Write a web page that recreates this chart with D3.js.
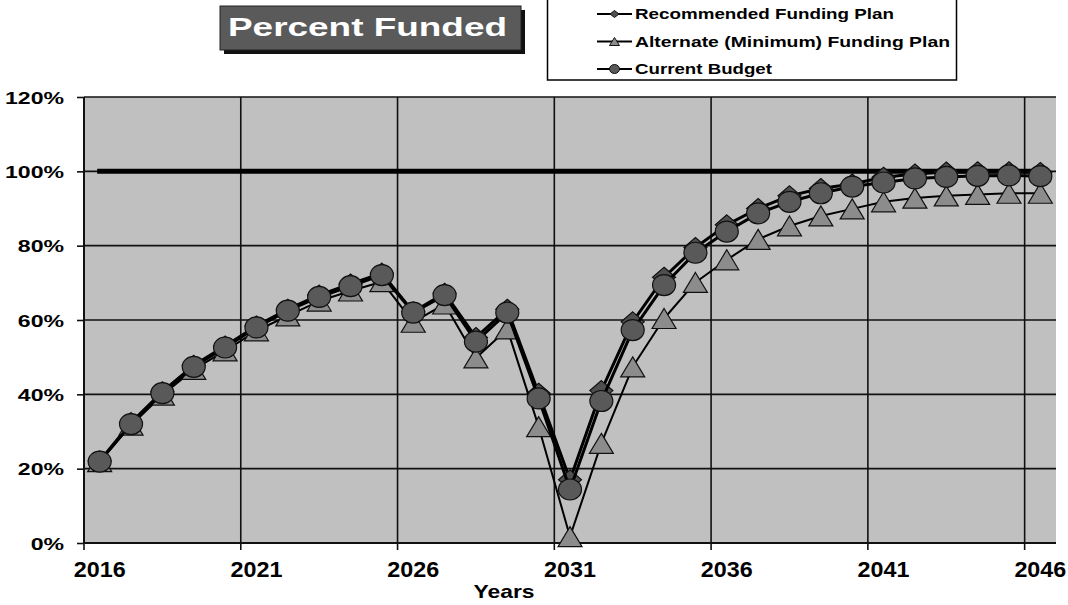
<!DOCTYPE html>
<html><head><meta charset="utf-8">
<script src="https://cdn.jsdelivr.net/npm/d3@7"></script>
<style>
html,body{margin:0;padding:0;background:#fff;}
text{font-family:"Liberation Sans",Arial,Helvetica,sans-serif;font-weight:bold;}
</style></head>
<body><svg id="c" width="1068" height="605"></svg>
<script>
const years = ["2016","2017","2018","2019","2020","2021","2022","2023","2024","2025","2026","2027","2028","2029","2030","2031","2032","2033","2034","2035","2036","2037","2038","2039","2040","2041","2042","2043","2044","2045","2046"];
const recommended = [22.1,32.4,40.7,47.8,53.0,58.4,62.9,66.7,69.7,72.6,62.2,67.2,55.3,62.9,40.3,17.0,41.0,59.5,71.5,79.5,85.6,90.0,93.4,95.4,96.6,98.4,99.3,99.8,99.9,99.9,99.7];
const alternate = [21.9,31.7,39.8,46.7,51.7,57.1,61.1,65.1,67.8,70.3,59.4,64.3,49.8,57.6,31.3,1.7,26.8,47.4,60.4,70.1,76.2,81.7,85.3,88.0,89.9,91.8,92.8,93.4,93.8,94.1,94.1];
const current = [21.9,32.0,40.3,47.4,52.6,58.0,62.5,66.2,69.1,72.1,62.0,66.7,54.2,62.0,38.9,14.4,38.2,57.3,69.4,78.1,83.8,88.7,91.8,94.1,95.9,97.0,98.1,98.5,98.8,98.9,98.7];
const target = [100,100,100,100,100,100,100,100,100,100,100,100,100,100,100,100,100,100,100,100,100,100,100,100,100,100,100,100,100,100,100];
const yTicks = [0,20,40,60,80,100,120];
const xTickLabels = ["2016","2021","2026","2031","2036","2041","2046"];
const seriesNames = ["Recommended Funding Plan","Alternate (Minimum) Funding Plan","Current Budget"];
const titleText = "Percent Funded";
const xTitle = "Years";

const svg = d3.select("#c");
const L=84, R=1056, T=97, B=543;
const x = d3.scaleBand().domain(years).range([L,R]).padding(0);
const y = d3.scaleLinear().domain([0,120]).range([B,T]);
const cx = d => x(d) + x.bandwidth()/2;

// plot background
svg.append("rect").attr("x",L).attr("y",T).attr("width",R-L).attr("height",B-T).attr("fill","#c0c0c0");

// horizontal gridlines
svg.append("g").selectAll("line").data(yTicks.filter(v=>v>0)).join("line")
  .attr("x1",L).attr("x2",R).attr("y1",d=>y(d)).attr("y2",d=>y(d))
  .attr("stroke","#111").attr("stroke-width",1.6);
// vertical gridlines at category boundaries
svg.append("g").selectAll("line").data(xTickLabels.slice(1)).join("line")
  .attr("x1",d=>x(d)).attr("x2",d=>x(d)).attr("y1",T).attr("y2",B)
  .attr("stroke","#111").attr("stroke-width",1.6);

// Y axis
const yAxis = svg.append("g").attr("transform",`translate(${L},0)`)
  .call(d3.axisLeft(y).tickValues(yTicks).tickSize(7).tickPadding(13).tickFormat(d=>d+"%"));
yAxis.select(".domain").attr("stroke","#111").attr("stroke-width",2).attr("d",`M0,${B}V${T}`);
yAxis.selectAll(".tick line").attr("stroke","#111").attr("stroke-width",1.6);
yAxis.selectAll(".tick text").attr("font-size",17).attr("fill","#000")
  .attr("font-family","Liberation Sans, Arial, sans-serif").attr("font-weight","bold")
  .attr("dy","0.36em")
  .each(function(){ const w=this.getComputedTextLength(); d3.select(this).attr("textLength",w*1.356).attr("lengthAdjust","spacingAndGlyphs"); });

// X axis: labels at category centers, ticks at boundaries
const xAxis = svg.append("g").attr("transform",`translate(0,${B})`)
  .call(d3.axisBottom(x).tickValues(xTickLabels).tickSize(0).tickPadding(18));
xAxis.select(".domain").remove();
xAxis.selectAll(".tick text").attr("font-size",22).attr("fill","#000")
  .attr("font-family","Liberation Sans, Arial, sans-serif").attr("font-weight","bold")
  .attr("dy","0.71em")
  .each(function(){ const w=this.getComputedTextLength(); d3.select(this).attr("textLength",w*1.06).attr("lengthAdjust","spacingAndGlyphs"); });
svg.append("g").selectAll("line").data(xTickLabels).join("line")
  .attr("x1",d=>x(d)).attr("x2",d=>x(d)).attr("y1",B).attr("y2",B+7)
  .attr("stroke","#111").attr("stroke-width",1.6);
svg.append("line").attr("x1",L).attr("x2",R).attr("y1",B).attr("y2",B).attr("stroke","#111").attr("stroke-width",2);

// x title
svg.append("text").attr("x",504).attr("y",598).attr("text-anchor","middle").attr("font-size",19)
  .attr("textLength",61).attr("lengthAdjust","spacingAndGlyphs").text(xTitle);

// target line
const line = arr => d3.line().x((d,i)=>cx(years[i])).y(d=>y(d))(arr);
svg.append("path").attr("d",line(target)).attr("fill","none").attr("stroke","#000").attr("stroke-width",5).attr("stroke-linecap","square");

// markers
const diamond = (w,h) => `M0,${-h/2}L${w/2},0L0,${h/2}L${-w/2},0Z`;
const triangle = (w,h) => `M0,${-h/2}L${w/2},${h/2}L${-w/2},${h/2}Z`;
const ellipse = (w,h) => `M${-w/2},0A${w/2},${h/2} 0 1,0 ${w/2},0A${w/2},${h/2} 0 1,0 ${-w/2},0Z`;

const series = [
  {vals:recommended, lw:3, shape:diamond(23,20), fill:"#4f4f4f", lshape:diamond(9,7)},
  {vals:alternate, lw:2, shape:triangle(24,20), fill:"#8c8c8c", lshape:triangle(10,8)},
  {vals:current, lw:3, shape:ellipse(23,21), fill:"#595959", lshape:ellipse(10,9)}
];
series.forEach(s=>{
  svg.append("path").attr("d",line(s.vals)).attr("fill","none").attr("stroke","#000").attr("stroke-width",s.lw).attr("stroke-linejoin","round");
  svg.append("g").selectAll("path").data(s.vals).join("path")
    .attr("transform",(d,i)=>`translate(${cx(years[i])},${y(d)})`)
    .attr("d",s.shape).attr("fill",s.fill).attr("stroke","#111").attr("stroke-width",1.2);
});

// title box
svg.append("rect").attr("x",224).attr("y",10).attr("width",301).attr("height",44).attr("fill","#111");
svg.append("rect").attr("x",220).attr("y",6).attr("width",301).attr("height",44).attr("fill","#5a5a5a").attr("stroke","#222").attr("stroke-width",1);
svg.append("text").attr("x",228).attr("y",36).attr("font-size",26).attr("fill","#fff")
  .attr("textLength",279).attr("lengthAdjust","spacingAndGlyphs").text(titleText);

// legend
svg.append("rect").attr("x",547.5).attr("y",-1).attr("width",409).attr("height",81).attr("fill","#fff").attr("stroke","#000").attr("stroke-width",1.5);
const legY = [14,41.5,69];
const legW = [259,315,137];
series.forEach((s,i)=>{
  const g = svg.append("g").attr("transform",`translate(0,${legY[i]})`);
  g.append("line").attr("x1",597).attr("x2",632).attr("y1",0).attr("y2",0).attr("stroke","#000").attr("stroke-width",2);
  g.append("path").attr("transform","translate(614.5,0)").attr("d",s.lshape).attr("fill",s.fill).attr("stroke","#111").attr("stroke-width",1);
  g.append("text").attr("x",635).attr("y",5).attr("font-size",14.5).attr("fill","#000")
    .attr("textLength",legW[i]).attr("lengthAdjust","spacingAndGlyphs").text(seriesNames[i]);
});
</script></body></html>
